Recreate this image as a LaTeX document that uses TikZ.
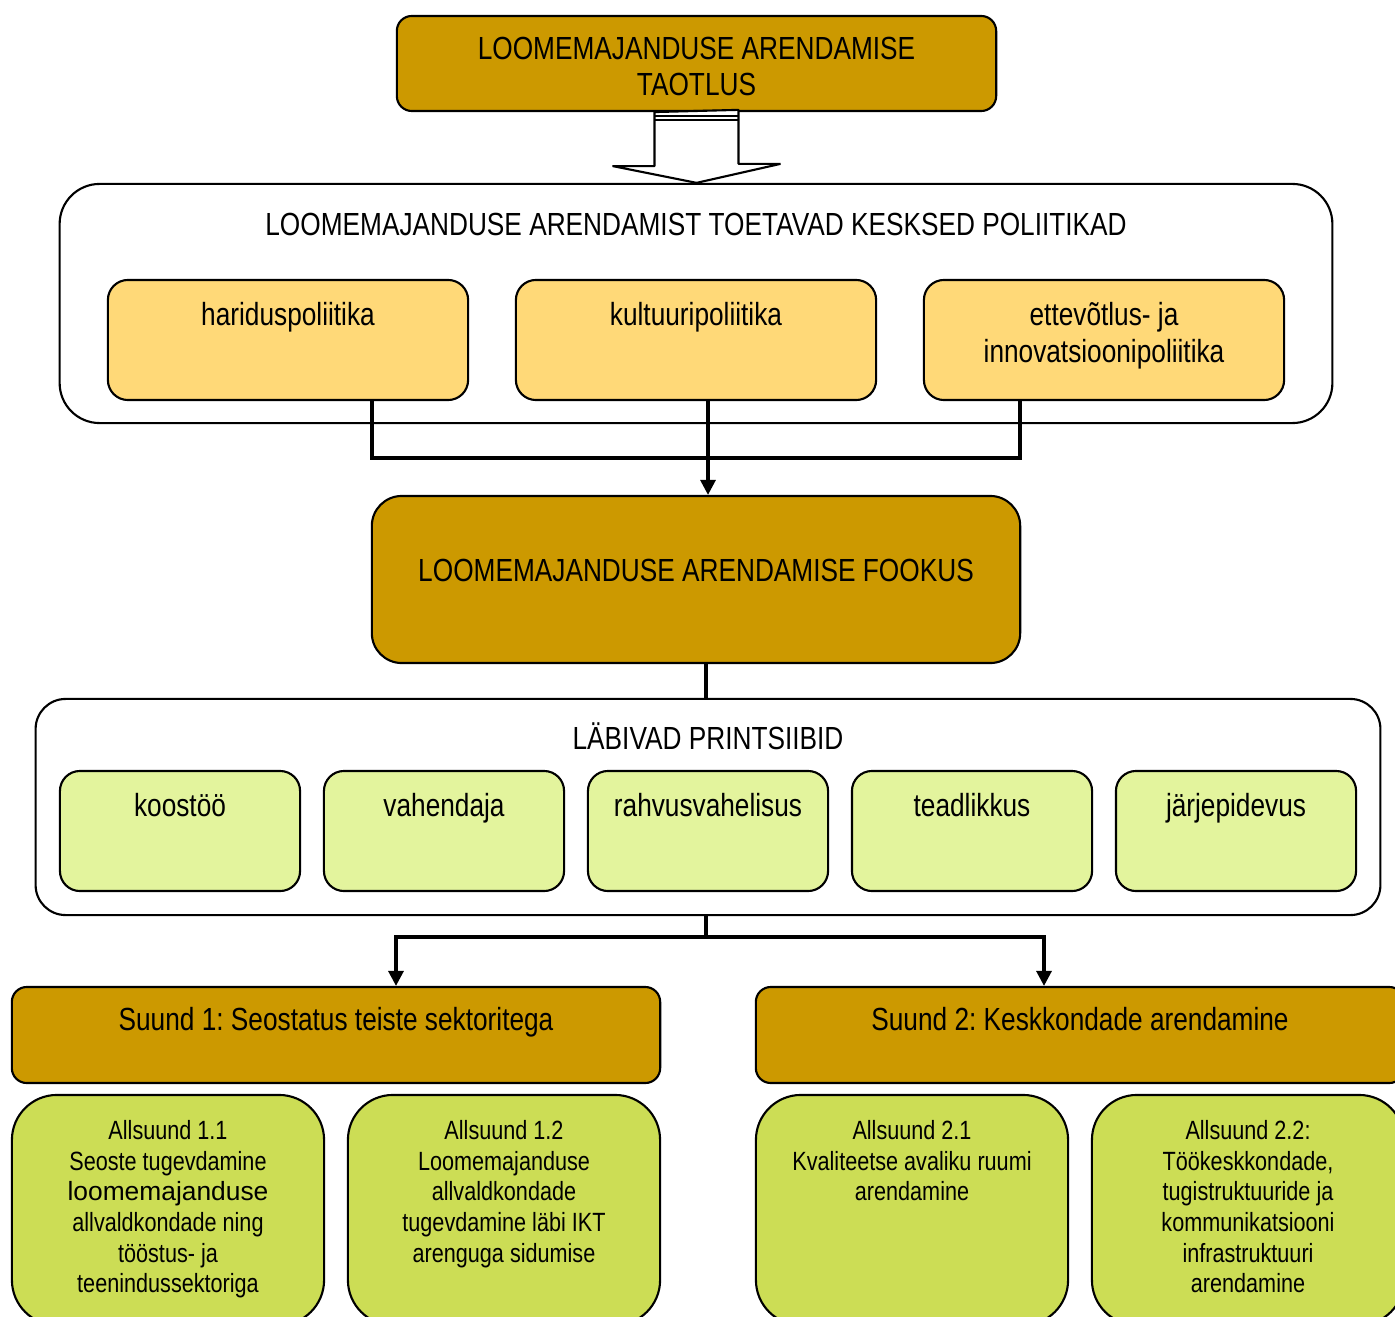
\documentclass[tikz,border=0pt]{standalone}
\usepackage{fontspec}
\setmainfont{Liberation Sans}
\newfontfamily\narrowfont[FakeStretch=0.82]{Liberation Sans}
\usetikzlibrary{positioning,calc,arrows.meta}

\definecolor{gold}{HTML}{CC9900}
\definecolor{polyellow}{HTML}{FFD978}
\definecolor{palegreen}{HTML}{E3F49D}
\definecolor{leafgreen}{HTML}{CCDD55}

\newcommand{\bigtxt}{\narrowfont\fontsize{9.1}{10.5}\selectfont}
\newcommand{\smalltxt}{\narrowfont\fontsize{7.5}{8.7}\selectfont}
\frenchspacing

\begin{document}
\begin{tikzpicture}[x=0.01cm, y=-0.01cm,
    rbox/.style={draw=black, line width=0.6pt, rounded corners=#1, inner sep=0pt},
    toptext/.style={anchor=north, inner sep=0pt, align=center, font=\bigtxt, yshift=-#1},
    conn/.style={draw=black, line width=0.9pt},
    tip/.style={-{Triangle[length=0.15cm, width=0.15cm]}}]
        \useasboundingbox (0,0) rectangle (1395,1316);
        \clip (0,0) rectangle (1395,1316);

        % Taotlus
        \node[rbox=0.15cm, fill=gold, minimum width=5.99cm, minimum height=0.95cm,
              label={[anchor=center, inner sep=0pt, align=center, font=\bigtxt, yshift=-0.03cm]center:{LOOMEMAJANDUSE ARENDAMISE\\TAOTLUS}}]
              (taotlus) at (696.5,63.5) {};

        % Poliitikad
        \node[rbox=0.4cm, minimum width=12.72cm, minimum height=2.39cm,
              label={[toptext=0.295cm]north:{LOOMEMAJANDUSE ARENDAMIST TOETAVAD KESKSED POLIITIKAD}}]
              (poliitikad) at (696,303.5) {};
        \node[rbox=0.2cm, fill=polyellow, minimum width=3.6cm, minimum height=1.2cm,
              label={[toptext=0.23cm]north:{hariduspoliitika}}] (hp) at (288,340) {};
        \node[rbox=0.2cm, fill=polyellow, minimum width=3.6cm, minimum height=1.2cm,
              label={[toptext=0.23cm]north:{kultuuripoliitika}}] (kp) at (696,340) {};
        \node[rbox=0.2cm, fill=polyellow, minimum width=3.6cm, minimum height=1.2cm,
              label={[toptext=0.23cm]north:{ettevõtlus- ja\\innovatsioonipoliitika}}] (ep) at (1104,340) {};

        % Block arrow
        \draw[line width=0.6pt, line join=bevel, fill=white] ($(taotlus.south)+(-42,0)$) -- ++(0,54) -- ++(-42,0)
              -- (taotlus.south |- poliitikad.north) -- ++(84,-19) -- ++(-42,0) -- ++(0,-54) -- cycle;
        \draw[line width=0.4pt] ($(taotlus.south)+(-42,4)$) -- ++(84,0);
        \draw[line width=0.4pt] ($(taotlus.south)+(-42,8)$) -- ++(84,0);

        % Fookus
        \node[rbox=0.3cm, fill=gold, minimum width=6.48cm, minimum height=1.67cm,
              label={[anchor=center, inner sep=0pt, font=\bigtxt, yshift=0.095cm]center:{LOOMEMAJANDUSE ARENDAMISE FOOKUS}}]
              (fookus) at (696,579.5) {};

        % Poliitikad -> fookus
        \coordinate (jl) at (372,458);
        \coordinate (jr) at (1020,458);
        \coordinate (jm) at (708,458);
        \draw[conn] (hp.south -| jl) -- (jl) -- (jr) -- (ep.south -| jr);
        \draw[conn, tip] (kp.south -| jm) -- (jm |- fookus.north);

        % Printsiibid
        \node[rbox=0.3cm, minimum width=13.44cm, minimum height=2.16cm,
              label={[toptext=0.245cm]north:{LÄBIVAD PRINTSIIBID}}] (printsiibid) at (708,807) {};
        \node[rbox=0.2cm, fill=palegreen, minimum width=2.4cm, minimum height=1.2cm,
              label={[toptext=0.23cm]north:{koostöö}}] (koostoo) at (180,831) {};
        \node[rbox=0.2cm, fill=palegreen, minimum width=2.4cm, minimum height=1.2cm,
              label={[toptext=0.23cm]north:{vahendaja}}] (vahendaja) at (444,831) {};
        \node[rbox=0.2cm, fill=palegreen, minimum width=2.4cm, minimum height=1.2cm,
              label={[toptext=0.23cm]north:{rahvusvahelisus}}] (rahvus) at (708,831) {};
        \node[rbox=0.2cm, fill=palegreen, minimum width=2.4cm, minimum height=1.2cm,
              label={[toptext=0.23cm]north:{teadlikkus}}] (teadlikkus) at (972,831) {};
        \node[rbox=0.2cm, fill=palegreen, minimum width=2.4cm, minimum height=1.2cm,
              label={[toptext=0.23cm]north:{järjepidevus}}] (jarjep) at (1236,831) {};

        % Fookus -> printsiibid
        \coordinate (fx) at (706,680);
        \draw[conn] (fookus.south -| fx) -- (fx |- printsiibid.north);

        % Suunad
        \node[rbox=0.15cm, fill=gold, minimum width=6.48cm, minimum height=0.96cm,
              label={[toptext=0.21cm]north:{Suund 1: Seostatus teiste sektoritega}}] (suund1) at (336,1035) {};
        \node[rbox=0.15cm, fill=gold, minimum width=6.48cm, minimum height=0.96cm,
              label={[toptext=0.21cm]north:{Suund 2: Keskkondade arendamine}}] (suund2) at (1080,1035) {};

        % Printsiibid -> suunad
        \coordinate (split) at (706,937);
        \coordinate (sl) at (396,937);
        \coordinate (sr) at (1044,937);
        \draw[conn] (printsiibid.south -| split) -- (split);
        \draw[conn, tip] (split) -- (sl) -- (sl |- suund1.north);
        \draw[conn, tip] (split) -- (sr) -- (sr |- suund2.north);

        % Allsuunad
        \node[rbox=0.45cm, fill=leafgreen, minimum width=3.12cm, minimum height=2.3cm,
              label={[toptext=0.26cm, font=\smalltxt]north:{Allsuund 1.1\\Seoste tugevdamine\\{\rmfamily loomemajanduse}\\allvaldkondade ning\\tööstus- ja\\teenindussektoriga}}]
              (as11) at (168,1210) {};
        \node[rbox=0.45cm, fill=leafgreen, minimum width=3.12cm, minimum height=2.3cm,
              label={[toptext=0.26cm, font=\smalltxt]north:{Allsuund 1.2\\Loomemajanduse\\allvaldkondade\\tugevdamine läbi IKT\\arenguga sidumise}}]
              (as12) at (504,1210) {};
        \node[rbox=0.45cm, fill=leafgreen, minimum width=3.12cm, minimum height=2.3cm,
              label={[toptext=0.26cm, font=\smalltxt]north:{Allsuund 2.1\\Kvaliteetse avaliku ruumi\\arendamine}}]
              (as21) at (912,1210) {};
        \node[rbox=0.45cm, fill=leafgreen, minimum width=3.12cm, minimum height=2.3cm,
              label={[toptext=0.26cm, font=\smalltxt]north:{Allsuund 2.2:\\Töökeskkondade,\\tugistruktuuride ja\\kommunikatsiooni\\infrastruktuuri\\arendamine}}]
              (as22) at (1248,1210) {};
    \end{tikzpicture}
\end{document}
